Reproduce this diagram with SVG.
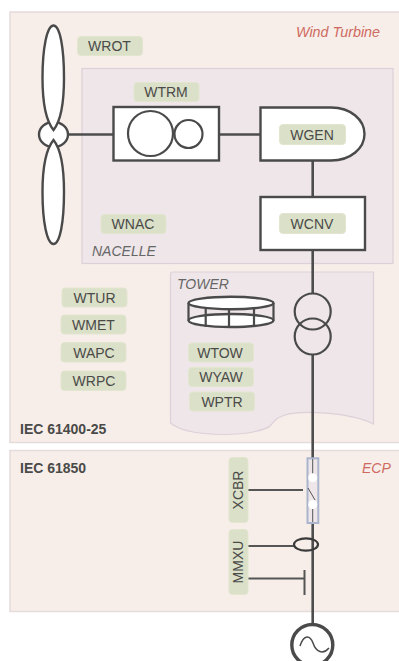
<svg xmlns="http://www.w3.org/2000/svg" width="399" height="661" viewBox="0 0 399 661">
<style>
text{font-family:"Liberation Sans",Arial,sans-serif;fill:#4a4a48}
.panel{fill:#f7eeea;stroke:#e6dadb;stroke-width:1.5}
.inner{fill:#eee6e9;stroke:#ddd0d8;stroke-width:1.2}
.tag{fill:#dbe0c8;stroke:#e2e6cf;stroke-width:1}
.t{font-size:14px;text-anchor:middle}
.sym{fill:#fff;stroke:#4a4a4a;stroke-width:2.4}
.nof{fill:none;stroke:#4a4a4a;stroke-width:2.2}
.line{fill:none;stroke:#4d4d4d;stroke-width:2.6}
.thin{fill:none;stroke:#555;stroke-width:2}
.hair{fill:none;stroke:#555;stroke-width:1}
.red{fill:#cf6a60;font-style:italic;font-size:14px}
.cap{fill:#666;font-style:italic;font-size:14px}
.b{font-weight:bold;font-size:14px}
</style>
<g id="areas">
<rect id="wind-turbine" class="panel" x="10" y="12" width="392" height="430.500"/>
<rect id="ecp-area" class="panel" x="10" y="450.500" width="392" height="161"/>
<rect id="nacelle-area" class="inner" x="82" y="68.500" width="311" height="195"/>
<path id="tower-area" class="inner" d="M172 272H373.500V424C350 412 300 410 285 415C276 418 274 421 271 425C262 436 190 440 170.500 423V274Q170.500 272 172 272Z"/>
<text class="red" x="296" y="37" textLength="84" lengthAdjust="spacingAndGlyphs">Wind Turbine</text>
<text class="red" x="362" y="473">ECP</text>
<text class="cap" x="92" y="256">NACELLE</text>
<text class="cap" x="177" y="289">TOWER</text>
<text class="b" x="20" y="434">IEC 61400-25</text>
<text class="b" x="20" y="473">IEC 61850</text>
</g>
<g id="connectors">
<path class="line" d="M67 134.500H114M219 134.500H261M312.700 161V197M312.700 250V294M312.700 355V458M312.700 523V625"/>
<path class="thin" d="M248 490H303M248 546H295M248 578.500H304.500M304.500 570V595"/>
</g>
<g id="rotor">
<ellipse class="sym" cx="53.500" cy="134.500" rx="14.500" ry="12.500"/>
<path class="sym" d="M53.500 25.500C47 25.500 42.500 48 42.500 78C42.500 105 47 122 53.500 130C60 122 64 105 64 78C64 48 60 25.500 53.500 25.500Z"/>
<path class="sym" d="M53.500 244C47 244 42.500 222 42.500 192C42.500 165 47 148 53.500 140C60 148 64 165 64 192C64 222 60 244 53.500 244Z"/>
</g>
<g id="gearbox">
<rect class="sym" x="113.500" y="107" width="105.500" height="53.500"/>
<circle class="nof" cx="150.500" cy="133.500" r="22.500"/>
<circle class="nof" cx="188.500" cy="134" r="14"/>
</g>
<g id="generator">
<path class="sym" d="M260.500 107.500H331C351 107.500 364.500 120 364.500 134C364.500 148 351 160.500 331 160.500H260.500Z"/>
</g>
<g id="converter">
<rect class="sym" x="260.500" y="197" width="104.500" height="53"/>
</g>
<g id="transformer">
<circle class="nof" cx="312.700" cy="311.500" r="18"/>
<circle class="nof" cx="312.700" cy="336.500" r="18"/>
</g>
<g id="yaw-ring">
<ellipse class="sym" cx="231" cy="320.500" rx="42.500" ry="6.500"/>
<ellipse class="sym" cx="231" cy="303" rx="42.500" ry="6.200"/>
<path class="nof" d="M188.500 303V320.500M273.500 303V320.500M205.700 309V327M229 309.500V327.500M254 309V327"/>
</g>
<g id="breaker">
<rect x="307.500" y="458.300" width="10.800" height="64.700" fill="#eee6e9" stroke="#aab4cc" stroke-width="2"/>
<path class="hair" d="M312.700 459V478M312.700 505V522M308 488L315 500"/>
<circle cx="312.700" cy="477.800" r="4.500" fill="#fff"/>
<circle cx="312.700" cy="504.500" r="4.500" fill="#fff"/>
</g>
<g id="current-transformer">
<ellipse cx="306" cy="544.500" rx="12" ry="6.200" fill="none" stroke="#3a3a3a" stroke-width="2.200"/>
</g>
<g id="grid-source">
<circle cx="312.300" cy="645" r="20.500" fill="#fff" stroke="#4a4a4a" stroke-width="3.400"/>
<path class="nof" stroke-width="1.500" d="M300 646C304 634 310 635 313 643C316 652 323 655 329 648" style="stroke-width:1.500"/>
</g>
<g id="WROT"><rect class="tag" x="77.500" y="36.500" width="65" height="19" rx="3.500"/><text class="t" x="109.500" y="51">WROT</text></g>
<g id="WTRM"><rect class="tag" x="134" y="82.500" width="65" height="19" rx="3.500"/><text class="t" x="166" y="97">WTRM</text></g>
<g id="WGEN"><rect class="tag" x="279.500" y="124.500" width="66" height="20" rx="3.500"/><text class="t" x="312" y="140">WGEN</text></g>
<g id="WCNV"><rect class="tag" x="279.500" y="213.500" width="66" height="20" rx="3.500"/><text class="t" x="312" y="229">WCNV</text></g>
<g id="WNAC"><rect class="tag" x="101" y="214.500" width="65" height="19" rx="3.500"/><text class="t" x="133" y="229">WNAC</text></g>
<g id="WTUR"><rect class="tag" x="62" y="288" width="65" height="19" rx="3.500"/><text class="t" x="94.500" y="303">WTUR</text></g>
<g id="WMET"><rect class="tag" x="61" y="315" width="65" height="19" rx="3.500"/><text class="t" x="93.500" y="330">WMET</text></g>
<g id="WAPC"><rect class="tag" x="61" y="342.500" width="65" height="19.500" rx="3.500"/><text class="t" x="94" y="357.500">WAPC</text></g>
<g id="WRPC"><rect class="tag" x="61" y="371" width="65" height="19.500" rx="3.500"/><text class="t" x="94" y="386">WRPC</text></g>
<g id="WTOW"><rect class="tag" x="188.500" y="343" width="65" height="19" rx="3.500"/><text class="t" x="220" y="358">WTOW</text></g>
<g id="WYAW"><rect class="tag" x="188.500" y="367.500" width="65" height="19" rx="3.500"/><text class="t" x="221" y="382">WYAW</text></g>
<g id="WPTR"><rect class="tag" x="189.500" y="392" width="65" height="19" rx="3.500"/><text class="t" x="222" y="406.500">WPTR</text></g>
<g id="XCBR"><rect class="tag" x="229" y="457.500" width="19" height="65" rx="3.500"/><text class="t" transform="translate(243,490) rotate(-90)">XCBR</text></g>
<g id="MMXU"><rect class="tag" x="229" y="529.500" width="19" height="65" rx="3.500"/><text class="t" transform="translate(243,562) rotate(-90)">MMXU</text></g>
</svg>
